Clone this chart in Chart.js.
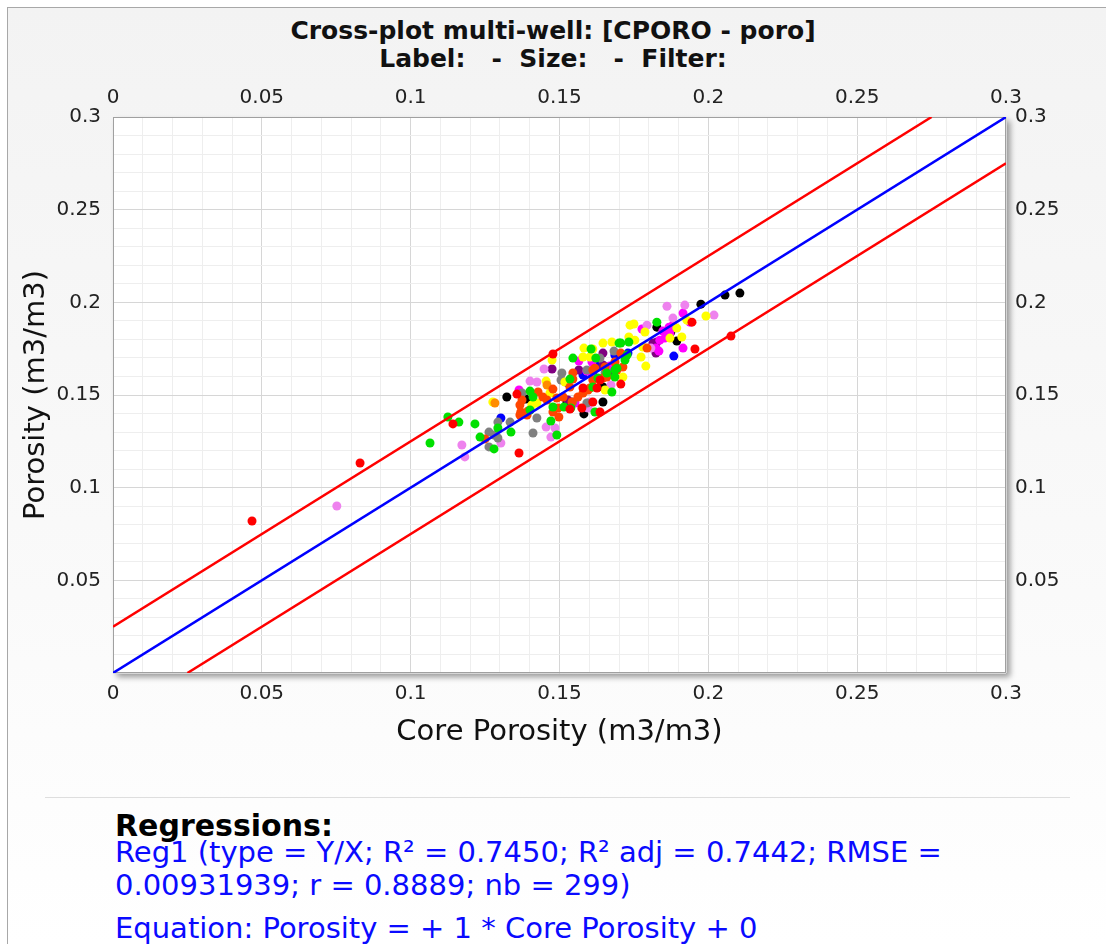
<!DOCTYPE html>
<html>
<head>
<meta charset="utf-8">
<script src="https://cdn.jsdelivr.net/npm/chart.js@4.4.1/dist/chart.umd.min.js"></script>
<style>
  html, body { margin: 0; padding: 0; background: #fff; }
  body { width: 1106px; height: 944px; position: relative; overflow: hidden; font-family: "DejaVu Sans", Verdana, sans-serif; }
  .panel { position: absolute; left: 7px; top: 7px; right: 0; bottom: 0; border-left: 1px solid #a8a8a8; border-top: 1px solid #a8a8a8; background: linear-gradient(#f3f3f3, #f9f9f9 55%, #ffffff); }
  .title { position: absolute; left: 0; width: 1106px; text-align: center; font-weight: bold; color: #111; font-size: 25px; line-height: 28px; white-space: pre; }
  #chart-box { position: absolute; left: 0; top: 0; width: 1106px; height: 790px; }
  .sep { position: absolute; left: 45px; width: 1025px; top: 797px; border-top: 1px solid #dedede; }
  .txt { position: absolute; left: 115px; white-space: nowrap; }
  .reg-head { font-weight: bold; font-size: 30px; line-height: 34px; color: #000; }
  .reg-line { font-size: 29px; line-height: 33px; color: #0a0aff; }
</style>
</head>
<body>
<div class="panel"></div>
<div class="title" style="top:17px">Cross-plot multi-well: [CPORO - poro]</div>
<div class="title" style="top:45px">Label:   -  Size:   -  Filter:</div>
<div id="chart-box"><canvas id="xplot"></canvas></div>
<div class="sep"></div>
<div class="txt reg-head" style="top:809px">Regressions:</div>
<div class="txt reg-line" style="top:836px">Reg1 (type = Y/X; R² = 0.7450; R² adj = 0.7442; RMSE =</div>
<div class="txt reg-line" style="top:869px">0.00931939; r = 0.8889; nb = 299)</div>
<div class="txt reg-line" style="top:912px">Equation: Porosity = + 1 * Core Porosity + 0</div>
<script>
// axis range / ticks
const axisMin = 0;
const axisMax = 0.3;
const majorStep = 0.05;
const minorStep = 0.01;

// regression Y/X and its +/- band
const regSlope = 1;
const regIntercept = 0;
const bandOffset = 0.025;

// core porosity (x) vs log porosity (y), grouped by well colour
const redPts = [
  [0.0467, 0.0820], [0.0830, 0.1133], [0.1142, 0.1344], [0.1364, 0.1187], [0.1478, 0.1721],
  [0.1357, 0.1505], [0.1579, 0.1538], [0.1612, 0.1462], [0.1575, 0.1430], [0.1535, 0.1424],
  [0.1636, 0.1408], [0.1706, 0.1559], [0.1636, 0.1581], [0.1626, 0.1538], [0.1945, 0.1893],
  [0.1955, 0.1748], [0.2076, 0.1818]
];
const greenPts = [
  [0.1065, 0.1241], [0.1125, 0.1381], [0.1162, 0.1354], [0.1216, 0.1344], [0.1233, 0.1273],
  [0.1280, 0.1209], [0.1293, 0.1322], [0.1337, 0.1300], [0.1545, 0.1699], [0.1535, 0.1586],
  [0.1401, 0.1521], [0.1411, 0.1489], [0.1606, 0.1748], [0.1700, 0.1780], [0.1629, 0.1592],
  [0.1612, 0.1543], [0.1676, 0.1516], [0.1619, 0.1408], [0.1515, 0.1435], [0.1478, 0.1435],
  [0.1471, 0.1360], [0.1491, 0.1284], [0.1401, 0.1419], [0.1538, 0.1430], [0.1827, 0.1893],
  [0.1706, 0.1780], [0.1733, 0.1786], [0.1720, 0.1689], [0.1727, 0.1716], [0.1686, 0.1635],
  [0.1686, 0.1597], [0.1622, 0.1699], [0.1693, 0.1645], [0.1659, 0.1619]
];
const orangeRedPts = [
  [0.1250, 0.1263], [0.1545, 0.1619], [0.1478, 0.1532], [0.1367, 0.1446], [0.1428, 0.1516],
  [0.1444, 0.1489], [0.1458, 0.1473], [0.1491, 0.1484], [0.1512, 0.1489], [0.1562, 0.1489],
  [0.1579, 0.1511], [0.1596, 0.1527], [0.1612, 0.1581], [0.1612, 0.1635], [0.1659, 0.1597],
  [0.1693, 0.1635], [0.1535, 0.1543], [0.1478, 0.1408], [0.1498, 0.1381], [0.1391, 0.1392],
  [0.1367, 0.1392], [0.1542, 0.1462], [0.1374, 0.1473], [0.1370, 0.1408], [0.1394, 0.1414],
  [0.1495, 0.1430], [0.1706, 0.1726], [0.1686, 0.1678], [0.1713, 0.1651], [0.1545, 0.1586],
  [0.1602, 0.1538], [0.1653, 0.1651], [0.1619, 0.1645], [0.1646, 0.1592], [0.1794, 0.1753]
];
const orangePts = [[0.1283, 0.1457], [0.1458, 0.1554]];
const yellowPts = [
  [0.1276, 0.1462], [0.1475, 0.1689], [0.1455, 0.1575], [0.1468, 0.1511], [0.1407, 0.1446],
  [0.1424, 0.1457], [0.1602, 0.1705], [0.1582, 0.1753], [0.1646, 0.1780], [0.1676, 0.1786],
  [0.1653, 0.1527], [0.1384, 0.1403], [0.1737, 0.1877], [0.1750, 0.1883], [0.1787, 0.1840],
  [0.1894, 0.1861], [0.1871, 0.1807], [0.1911, 0.1813], [0.1733, 0.1813], [0.1753, 0.1796],
  [0.1612, 0.1748], [0.1774, 0.1705], [0.1790, 0.1656], [0.1713, 0.1597], [0.1518, 0.1570],
  [0.1928, 0.1904], [0.1992, 0.1926], [0.1780, 0.1759], [0.1579, 0.1705]
];
const grayPts = [
  [0.1263, 0.1300], [0.1293, 0.1354], [0.1280, 0.1284], [0.1293, 0.1268], [0.1263, 0.1220],
  [0.1334, 0.1354], [0.1508, 0.1619], [0.1505, 0.1581], [0.1545, 0.1462], [0.1636, 0.1699],
  [0.1592, 0.1635], [0.1653, 0.1619], [0.1683, 0.1737], [0.1374, 0.1511], [0.1424, 0.1376],
  [0.1411, 0.1295], [0.1592, 0.1457]
];
const violetPts = [
  [0.0752, 0.0901], [0.1172, 0.1230], [0.1182, 0.1166], [0.1303, 0.1241], [0.1448, 0.1640],
  [0.1401, 0.1575], [0.1424, 0.1570], [0.1455, 0.1327], [0.1485, 0.1322], [0.1471, 0.1273],
  [0.1596, 0.1430], [0.1673, 0.1554], [0.1921, 0.1985], [0.1861, 0.1979], [0.2019, 0.1931],
  [0.1881, 0.1915], [0.1794, 0.1877], [0.1807, 0.1753], [0.1602, 0.1462]
];
const magentaPts = [
  [0.1565, 0.1683], [0.1364, 0.1527], [0.1609, 0.1619], [0.1552, 0.1457], [0.1915, 0.1942],
  [0.1777, 0.1856], [0.1847, 0.1845], [0.1871, 0.1834], [0.1881, 0.1877], [0.1837, 0.1796],
  [0.1834, 0.1737], [0.1915, 0.1753], [0.1669, 0.1656], [0.1592, 0.1629], [0.1609, 0.1678],
  [0.1663, 0.1645], [0.1938, 0.1893], [0.1868, 0.1866], [0.1854, 0.1807], [0.1824, 0.1753]
];
const purplePts = [
  [0.1475, 0.1640], [0.1646, 0.1726], [0.1565, 0.1635], [0.1680, 0.1624], [0.1827, 0.1786],
  [0.1814, 0.1780], [0.1824, 0.1726], [0.1646, 0.1662], [0.1528, 0.1473], [0.1612, 0.1608]
];
const blackPts = [
  [0.1323, 0.1489], [0.1387, 0.1478], [0.1525, 0.1462], [0.1646, 0.1462], [0.1582, 0.1398],
  [0.2106, 0.2050], [0.2056, 0.2039], [0.1975, 0.1990], [0.1827, 0.1866], [0.1894, 0.1791],
  [0.1874, 0.1840], [0.1646, 0.1543]
];
const bluePts = [
  [0.1303, 0.1376], [0.1619, 0.1678], [0.1663, 0.1651], [0.1528, 0.1565], [0.1884, 0.1710],
  [0.1730, 0.1726], [0.1626, 0.1651], [0.1686, 0.1716], [0.1579, 0.1608]
];

const wells = [
  { pts: redPts, color: '#ff0000' },
  { pts: greenPts, color: '#00e000' },
  { pts: orangeRedPts, color: '#ff4500' },
  { pts: orangePts, color: '#ff8c00' },
  { pts: yellowPts, color: '#ffff00' },
  { pts: grayPts, color: '#808080' },
  { pts: violetPts, color: '#ee82ee' },
  { pts: magentaPts, color: '#ff00ff' },
  { pts: purplePts, color: '#800080' },
  { pts: blackPts, color: '#000000' },
  { pts: bluePts, color: '#0000ff' },
];

// straight line y = slope*x + c, cut to the plot box
function clippedLine(c) {
  const x0 = Math.max(axisMin, (axisMin - c) / regSlope);
  const x1 = Math.min(axisMax, (axisMax - c) / regSlope);
  return [x0, x1].map(x => ({ x, y: regSlope * x + c }));
}

function lineSet(c, color) {
  return {
    type: 'line', data: clippedLine(c), borderColor: color, borderWidth: 2.5,
    pointRadius: 0, fill: false, showLine: true, xAxisID: 'x', yAxisID: 'y',
  };
}

const isMajor = v => Math.abs(v / majorStep - Math.round(v / majorStep)) < 1e-6;
const xLabel = v => isMajor(v) ? String(+v.toFixed(2)) : '';
const yLabel = v => (isMajor(v) && v > axisMin) ? String(+v.toFixed(2)) : '';

const plotFrame = {
  id: 'plotFrame',
  beforeDraw(chart) {
    const { ctx, chartArea: a } = chart;
    ctx.save();
    ctx.shadowColor = 'rgba(0,0,0,0.4)';
    ctx.shadowBlur = 6;
    ctx.shadowOffsetX = 4;
    ctx.shadowOffsetY = 4;
    ctx.fillStyle = '#fff';
    ctx.fillRect(a.left, a.top, a.right - a.left, a.bottom - a.top);
    ctx.restore();
  },
  beforeDatasetsDraw(chart) {
    const { ctx, chartArea: a } = chart;
    ctx.save();
    ctx.strokeStyle = '#a0a0a0';
    ctx.lineWidth = 1;
    ctx.strokeRect(a.left + 0.5, a.top + 0.5, a.right - a.left - 1, a.bottom - a.top - 1);
    ctx.restore();
  },
};

Chart.defaults.font.family = '"DejaVu Sans", Verdana, sans-serif';
Chart.defaults.color = '#222';

const tickFont = { size: 20 };
const gridColor = ctx => isMajor(ctx.tick.value) ? '#d6d6d6' : '#eeeeee';

function ticks(padding, callback) {
  return { stepSize: minorStep, autoSkip: false, maxRotation: 0, minRotation: 0, font: tickFont, color: '#222', padding, callback };
}

function axis(position, opts) {
  return Object.assign({
    type: 'linear', position, min: axisMin, max: axisMax,
    border: { display: false },
  }, opts);
}

const datasets = [
  lineSet(regIntercept, '#0000ff'),
  lineSet(regIntercept + bandOffset, '#ff0000'),
  lineSet(regIntercept - bandOffset, '#ff0000'),
  ...wells.map(w => ({
    type: 'scatter',
    data: w.pts.map(([x, y]) => ({ x, y })),
    backgroundColor: w.color, borderWidth: 0, pointRadius: 4.5, pointHoverRadius: 4.5,
    xAxisID: 'x', yAxisID: 'y',
  })),
];

new Chart(document.getElementById('xplot').getContext('2d'), {
  type: 'scatter',
  data: { datasets },
  options: {
    responsive: true,
    maintainAspectRatio: false,
    animation: false,
    layout: { padding: { top: 70, right: 0, bottom: 0, left: 0 } },
    plugins: { legend: { display: false }, tooltip: { enabled: false } },
    scales: {
      x: axis('bottom', {
        grid: { color: gridColor, lineWidth: 1, drawTicks: false },
        ticks: ticks(9, xLabel),
        title: { display: true, text: 'Core Porosity (m3/m3)', font: { size: 29 }, color: '#111', padding: { top: 0, bottom: 40 } },
        afterFit: s => { s.height = 117; },
      }),
      x2: axis('top', {
        grid: { display: false, drawTicks: false },
        ticks: ticks(7, xLabel),
        afterFit: s => { s.height = 47; },
      }),
      y: axis('left', {
        grid: { color: gridColor, lineWidth: 1, drawTicks: false },
        ticks: ticks(12, yLabel),
        title: { display: true, text: 'Porosity (m3/m3)', font: { size: 29 }, color: '#111', padding: { top: 19, bottom: 0 } },
        afterFit: s => { s.width = 113; },
      }),
      y2: axis('right', {
        grid: { display: false, drawTicks: false },
        ticks: ticks(9, yLabel),
        afterFit: s => { s.width = 100; },
      }),
    },
  },
  plugins: [plotFrame],
});
</script>
</body>
</html>
